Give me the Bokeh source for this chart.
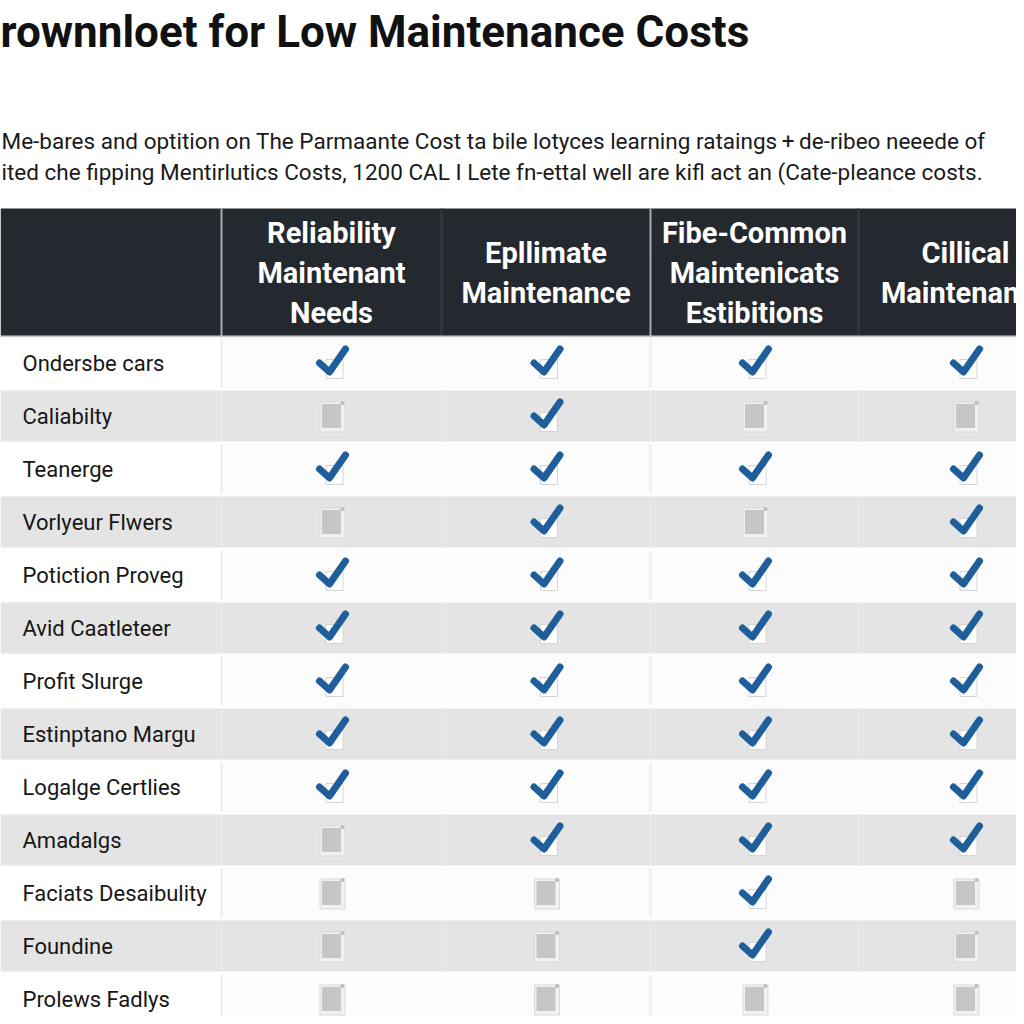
from bokeh.plotting import figure
from bokeh.models import Range1d
from bokeh.core.properties import value
from bokeh.embed import file_html
from bokeh.resources import INLINE

# ---------------- data ----------------
title_text = "rownnloet for Low Maintenance Costs"
subtitle_lines = [
    "Me-bares and optition on The Parmaante Cost ta bile lotyces learning rataings\u2009+\u2009de-ribeo neeede of",
    "ited che fipping Mentirlutics Costs, 1200 CAL I Lete fn-ettal well are kifl act an (Cate-pleance costs.",
]
row_labels = [
    "Ondersbe cars", "Caliabilty", "Teanerge", "Vorlyeur Flwers", "Potiction Proveg",
    "Avid Caatleteer", "Profit Slurge", "Estinptano Margu", "Logalge Certlies",
    "Amadalgs", "Faciats Desaibulity", "Foundine", "Prolews Fadlys",
]
col_headers = [
    ["Reliability", "Maintenant", "Needs"],
    ["Epllimate", "Maintenance"],
    ["Fibe-Common", "Maintenicats", "Estibitions"],
    ["Cillical", "Maintenance"],
]
checks = [
    [1, 1, 1, 1],
    [0, 1, 0, 0],
    [1, 1, 1, 1],
    [0, 1, 0, 1],
    [1, 1, 1, 1],
    [1, 1, 1, 1],
    [1, 1, 1, 1],
    [1, 1, 1, 1],
    [1, 1, 1, 1],
    [0, 1, 1, 1],
    [0, 0, 1, 0],
    [0, 0, 1, 0],
    [0, 0, 0, 0],
]

# ---------------- layout ----------------
COL_EDGES = [0, 221, 441, 650, 858, 1072]
HEAD_TOP, HEAD_BOT = 208, 336
ROW_H = 53.0
HEAD_LINE = 40
FONT = "Roboto"
# check-mark shape (offsets from cell centre, in px)
CHECK_DX = [-12, -2, 14]
CHECK_DY = [0, 9, -14]

p = figure(width=1016, height=1016, x_range=Range1d(0, 1016), y_range=Range1d(1016, 0),
           toolbar_location=None, output_backend="svg", min_border=0)
p.axis.visible = False
p.grid.visible = False
p.outline_line_color = None
p.background_fill_color = "white"
p.border_fill_color = "white"

# title & subtitle
p.text(x=[0], y=[31], text=[title_text], text_font=value(FONT), text_font_size="44px",
       text_font_style="bold", text_color="#111111", text_baseline="middle", text_align="left")
p.text(x=[1, 1], y=[140, 171], text=subtitle_lines, text_font=value(FONT),
       text_font_size="22.5px", text_color="#1a1a1a", text_baseline="middle", text_align="left")

# header band
p.quad(left=[COL_EDGES[0]], right=[COL_EDGES[-1]], top=[HEAD_TOP], bottom=[HEAD_BOT],
       fill_color="#24282f", line_color=None)
sep_x = COL_EDGES[1:-1]
sep_col = ["#a7abb1", "#353a43", "#a7abb1", "#353a43"]
p.segment(x0=sep_x, x1=sep_x, y0=[HEAD_TOP] * 4, y1=[HEAD_BOT] * 4, line_color=sep_col, line_width=2)
p.segment(x0=[COL_EDGES[0]], x1=[COL_EDGES[-1]], y0=[HEAD_BOT], y1=[HEAD_BOT],
          line_color="#c9cbcf", line_width=2)

# header texts
hx, hy, ht = [], [], []
head_mid = (HEAD_TOP + HEAD_BOT) / 2
for j, lines in enumerate(col_headers):
    cx = (COL_EDGES[j + 1] + COL_EDGES[j + 2]) / 2
    n = len(lines)
    for k, t in enumerate(lines):
        hx.append(cx)
        hy.append(head_mid + (k - (n - 1) / 2) * HEAD_LINE)
        ht.append(t)
p.text(x=hx, y=hy, text=ht, text_font=value(FONT), text_font_size="29px", text_font_style="bold",
       text_color="white", text_align="center", text_baseline="middle")

# body rows
n_rows = len(row_labels)
ql, qr, qt, qb, qc = [], [], [], [], []
for i in range(n_rows):
    top = HEAD_BOT + i * ROW_H
    for j in range(len(COL_EDGES) - 1):
        ql.append(COL_EDGES[j])
        qr.append(COL_EDGES[j + 1])
        qt.append(top + 1)
        qb.append(top + ROW_H - 1)
        qc.append("#e4e4e4" if i % 2 == 1 else ("#ffffff" if j == 0 else "#fcfcfc"))
p.quad(left=ql, right=qr, top=qt, bottom=qb, fill_color=qc, line_color=None)

# light column separators in white rows
vx0, vy0, vy1 = [], [], []
for i in range(n_rows):
    if i % 2 == 0:
        top = HEAD_BOT + i * ROW_H
        for xe in (COL_EDGES[1], COL_EDGES[3]):
            vx0.append(xe)
            vy0.append(top + 2)
            vy1.append(top + ROW_H - 2)
p.segment(x0=vx0, x1=vx0, y0=vy0, y1=vy1, line_color="#ececec", line_width=2)

# row labels
ry = [HEAD_BOT + (i + 0.5) * ROW_H for i in range(n_rows)]
p.text(x=[22] * n_rows, y=ry, text=row_labels, text_font=value(FONT), text_font_size="22px",
       text_color="#161616", text_align="left", text_baseline="middle")

# marks
cx_on, cy_on, cx_off, cy_off = [], [], [], []
for i in range(n_rows):
    for j in range(4):
        cx = (COL_EDGES[j + 1] + COL_EDGES[j + 2]) / 2
        if checks[i][j]:
            cx_on.append(cx)
            cy_on.append(ry[i])
        else:
            cx_off.append(cx)
            cy_off.append(ry[i])

# empty boxes
p.rect(x=[x + 1 for x in cx_off], y=[y + 1 for y in cy_off], width=25, height=30,
       width_units="screen", height_units="screen", fill_color="#f1f1f1", line_color="#d9d9d9", line_width=1)
p.rect(x=cx_off, y=cy_off, width=19, height=24, width_units="screen", height_units="screen",
       fill_color="#c6c6c6", line_color=None)
p.scatter(x=[x + 11 for x in cx_off], y=[y - 13 for y in cy_off], size=4, marker="circle",
          fill_color="#bdbdbd", line_color=None)

# checked: small white box + blue check stroke
p.rect(x=[x + 3 for x in cx_on], y=[y + 6 for y in cy_on], width=17, height=19,
       width_units="screen", height_units="screen", fill_color="#ffffff", line_color="#d4d4d4", line_width=1)
p.multi_line(xs=[[x + d for d in CHECK_DX] for x in cx_on],
             ys=[[y + d for d in CHECK_DY] for y in cy_on],
             line_color="#1d5e9b", line_width=7, line_cap="round", line_join="round")

open("out.html", "w").write(file_html(p, INLINE))
